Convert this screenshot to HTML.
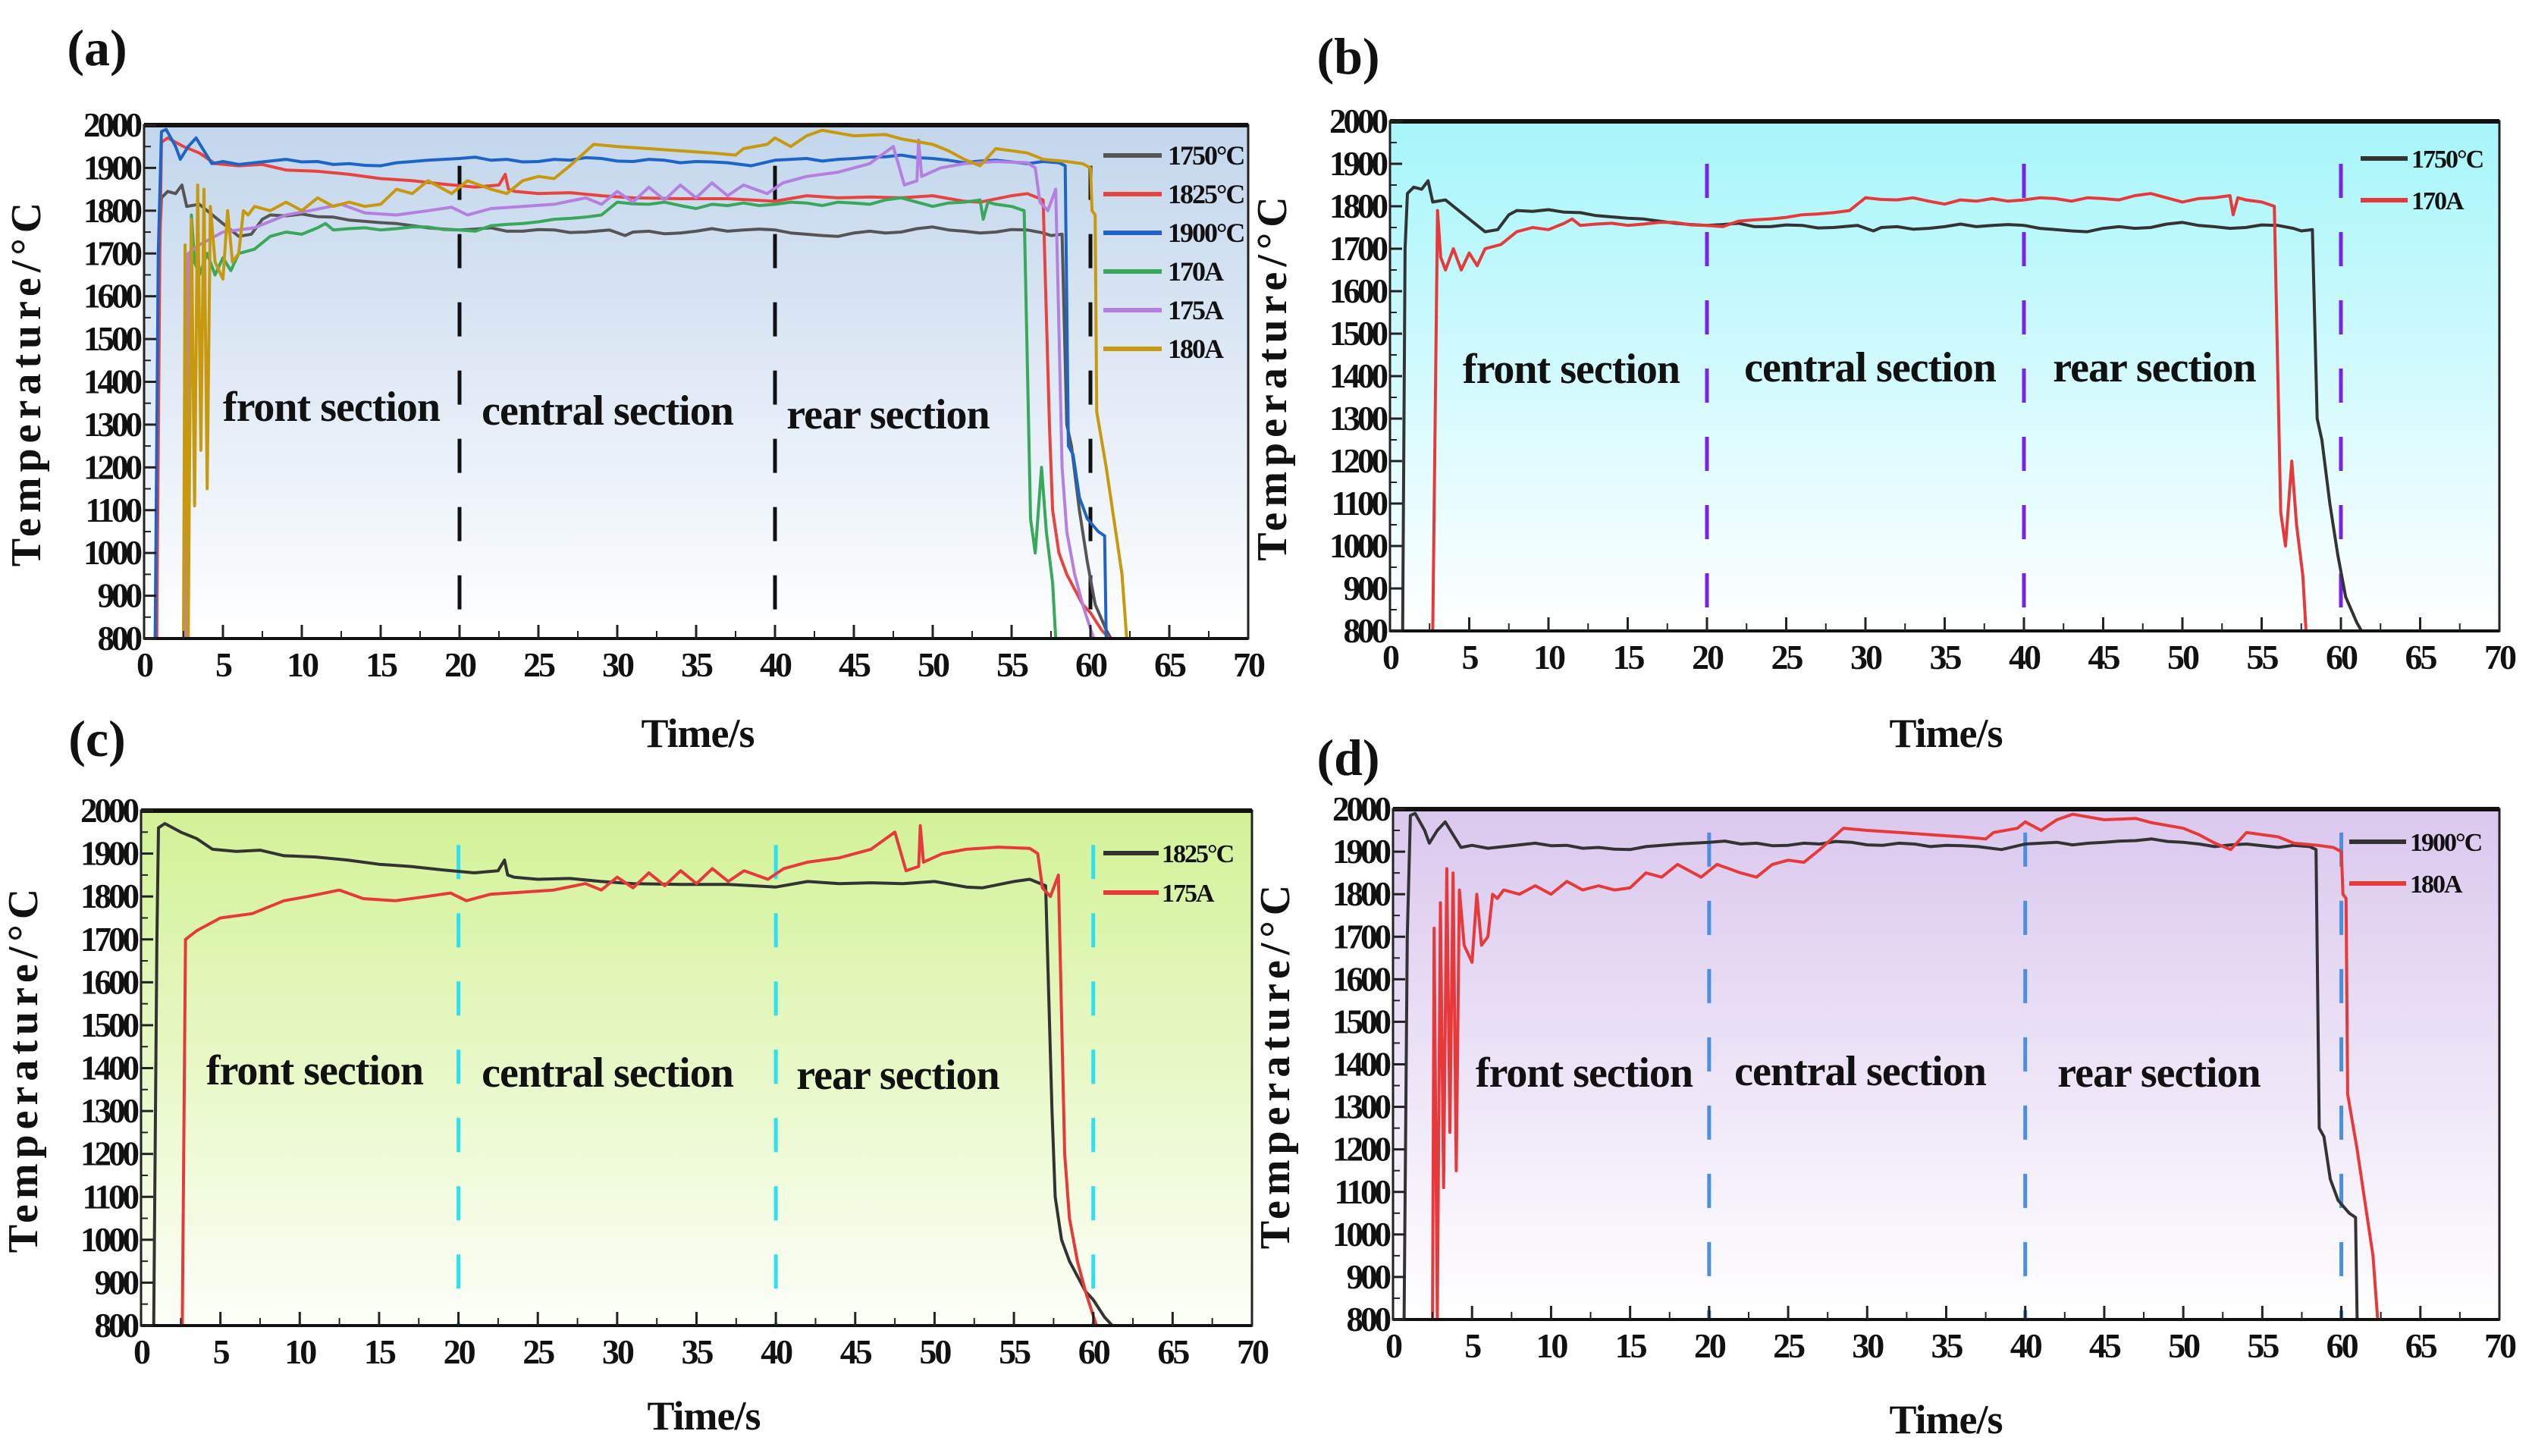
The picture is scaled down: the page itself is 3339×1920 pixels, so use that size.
<!DOCTYPE html>
<html><head><meta charset="utf-8">
<style>
html,body{margin:0;padding:0;background:#fff;}
svg{display:block;}
text{font-family:"Liberation Serif",serif;font-weight:bold;fill:#111;}
</style></head>
<body>
<svg id="fig" xmlns="http://www.w3.org/2000/svg" width="3339" height="1920" viewBox="0 0 3339 1920">
<defs>
<linearGradient id="gA" x1="0" y1="0" x2="0" y2="1"><stop offset="0" stop-color="#c2d6ec"/><stop offset="1" stop-color="#ffffff"/></linearGradient>
<linearGradient id="gB" x1="0" y1="0" x2="0" y2="1"><stop offset="0" stop-color="#a6f6fb"/><stop offset="1" stop-color="#ffffff"/></linearGradient>
<linearGradient id="gC" x1="0" y1="0" x2="0" y2="1"><stop offset="0" stop-color="#d2f296"/><stop offset="1" stop-color="#fdfff8"/></linearGradient>
<linearGradient id="gD" x1="0" y1="0" x2="0" y2="1"><stop offset="0" stop-color="#dac8ee"/><stop offset="1" stop-color="#ffffff"/></linearGradient>
</defs>
</svg>
<script>
// ---- data (time s, temperature °C) ----
const s1750 = [[0,800],[0.8,800],[0.95,1700],[1.1,1830],[1.5,1845],[2,1840],[2.4,1860],[2.7,1810],[3.5,1815],[4,1800],[5,1770],[6,1740],[6.8,1745],[7.5,1780],[8,1790],[9,1788],[10,1792],[11,1786],[12,1785],[13,1778],[14,1775],[15,1772],[16,1770],[17,1765],[18,1760],[19,1757],[20,1755],[21,1757],[22,1760],[23,1752],[24,1752],[25,1756],[26,1755],[27,1749],[28,1750],[29.5,1755],[30.5,1742],[31,1750],[32,1752],[33,1746],[34,1748],[35,1752],[36,1758],[37,1752],[38,1755],[39,1757],[40,1755],[41,1748],[42,1745],[43,1742],[44,1740],[45,1748],[46,1752],[47,1748],[48,1750],[49,1758],[50,1762],[51,1755],[52,1752],[53,1748],[54,1750],[55,1756],[56,1755],[57,1748],[57.5,1742],[58.2,1745],[58.5,1300],[58.8,1250],[59.3,1100],[59.8,980],[60.3,880],[61,820],[61.3,800],[63,800]];
const s1825 = [[0,800],[0.8,800],[1.0,1700],[1.1,1960],[1.5,1970],[2.5,1950],[3.5,1935],[4.5,1910],[6,1905],[7.5,1908],[9,1895],[11,1892],[13,1885],[15,1875],[17,1870],[19,1862],[21,1855],[22.5,1860],[22.9,1885],[23.1,1850],[23.5,1845],[25,1840],[27,1842],[29,1835],[31,1830],[34,1828],[37,1828],[40,1822],[42,1835],[44,1830],[46,1832],[48,1830],[50,1835],[52,1822],[53,1820],[55,1835],[56,1840],[57,1825],[57.4,1300],[57.6,1100],[58,1000],[58.5,950],[59.5,880],[60,860],[60.7,820],[61.2,800],[63,800]];
const s1900 = [[0,800],[0.7,800],[0.9,1700],[1.1,1985],[1.4,1990],[2,1950],[2.3,1920],[2.8,1950],[3.3,1970],[3.8,1940],[4.3,1910],[5,1915],[6,1908],[7,1912],[8,1916],[9,1920],[10,1914],[11,1915],[12,1908],[13,1910],[14,1906],[15,1905],[16,1912],[17,1915],[18,1918],[19,1920],[20,1922],[21,1925],[22,1918],[23,1920],[24,1914],[25,1915],[26,1920],[27,1918],[28,1924],[29,1922],[30,1916],[31,1915],[32,1920],[33,1918],[34,1912],[35,1915],[36,1914],[37,1912],[38.5,1905],[40,1918],[41,1920],[42,1922],[43,1916],[44,1920],[45,1922],[46,1925],[47,1926],[48,1930],[49,1924],[50,1922],[51,1918],[52,1912],[53,1916],[54,1918],[55,1914],[56,1910],[57,1915],[58,1912],[58.4,1905],[58.6,1250],[58.9,1230],[59.3,1130],[59.8,1080],[60.5,1050],[60.9,1040],[61,800],[63,800]];
const s170A = [[0,800],[2.7,800],[3.0,1790],[3.2,1680],[3.5,1650],[4,1700],[4.5,1650],[5,1690],[5.5,1660],[6,1700],[7,1710],[8,1740],[9,1750],[10,1745],[11,1760],[11.5,1770],[12,1755],[13,1758],[14,1760],[15,1755],[16,1758],[17,1762],[18,1762],[19,1756],[20,1755],[21,1752],[22,1765],[23,1768],[24,1770],[25,1774],[26,1780],[27,1782],[28,1785],[29,1790],[30,1820],[31,1816],[32,1815],[33,1820],[34,1812],[35,1805],[36,1815],[37,1812],[38,1818],[39,1812],[40,1815],[41,1820],[42,1818],[43,1812],[44,1820],[45,1818],[46,1815],[47,1825],[48,1830],[49,1820],[50,1810],[51,1818],[52,1820],[53,1825],[53.2,1780],[53.5,1820],[54,1815],[55,1810],[55.8,1800],[56.2,1080],[56.5,1000],[56.9,1200],[57.2,1050],[57.6,930],[57.8,800],[63,800]];
const s175A = [[0,800],[2.6,800],[2.8,1700],[3.5,1720],[5,1750],[7,1760],[9,1790],[10.5,1800],[12.5,1815],[14,1795],[16,1790],[18,1800],[19.5,1808],[20.5,1790],[22,1805],[24,1810],[26,1815],[28,1830],[29,1815],[30,1845],[31,1820],[32,1855],[33,1825],[34,1860],[35,1830],[36,1865],[37,1835],[38,1860],[39.5,1840],[40.5,1865],[42,1880],[44,1890],[46,1910],[47.5,1950],[48.2,1860],[49,1870],[49.1,1965],[49.3,1880],[50.5,1900],[52,1910],[54,1915],[56,1912],[56.5,1900],[56.8,1820],[57.3,1800],[57.8,1850],[58.2,1200],[58.5,1050],[59,950],[59.5,880],[60.2,800],[63,800]];
const s180A = [[0,800],[2.5,800],[2.6,1720],[2.8,800],[3.0,1780],[3.2,1110],[3.4,1860],[3.6,1240],[3.8,1850],[4.0,1150],[4.2,1810],[4.5,1680],[5.0,1640],[5.3,1800],[5.6,1680],[6.0,1700],[6.3,1800],[6.6,1790],[7,1810],[8,1800],[9,1820],[10,1800],[11,1830],[12,1810],[13,1820],[14,1810],[15,1815],[16,1850],[17,1840],[18,1870],[19.5,1840],[20.5,1870],[22,1850],[23,1840],[24,1870],[25,1880],[26,1875],[27,1905],[28.5,1955],[30,1950],[32,1945],[34,1940],[36,1935],[37.5,1930],[38,1945],[39.5,1955],[40,1970],[41,1950],[42,1975],[43,1988],[45,1975],[47,1978],[48,1968],[50,1955],[51,1940],[52,1920],[53,1905],[54,1945],[56,1935],[57,1920],[58.5,1915],[59.5,1910],[60,1900],[60.1,1800],[60.3,1790],[60.4,1330],[61,1200],[62,950],[62.3,800],[63,800]];
const xTicks = [0,5,10,15,20,25,30,35,40,45,50,55,60,65,70];
const yTicks = [800,900,1000,1100,1200,1300,1400,1500,1600,1700,1800,1900,2000];
const sectionBounds = [20,40,60];
const sectionNames = ["front section","central section","rear section"];

const NS="http://www.w3.org/2000/svg";
const svg=document.getElementById('fig');
function mk(tag,attrs,parent){const e=document.createElementNS(NS,tag);for(const k in attrs)e.setAttribute(k,attrs[k]);(parent||svg).appendChild(e);return e;}

const panels=[
 {id:'a',L:190,R:1646,T:165,B:842,bg:'url(#gA)',dash:'#111',dashTop:1905,
  series:[[s1750,'#555555','1750°C'],[s1825,'#e8433f','1825°C'],[s1900,'#1e64c8','1900°C'],[s170A,'#38a85a','170A'],[s175A,'#b47fe0','175A'],[s180A,'#c8990c','180A']],
  leg:{x1:1455,x2:1532,tx:1540,y0:205,dy:51,fs:34},
  lab:[128,64],xt:[920,985],sec:[[437,555],[801,560],[1171,565]]},
 {id:'b',L:1833,R:3296,T:160,B:832,bg:'url(#gB)',dash:'#7a22e6',dashTop:1900,
  series:[[s1750,'#333333','1750°C'],[s170A,'#e8393a','170A']],
  leg:{x1:3113,x2:3175,tx:3180,y0:209,dy:55,fs:32},
  lab:[1778,75],xt:[2566,985],sec:[[2072,505],[2466,503],[2841,503]]},
 {id:'c',L:186,R:1651,T:1069,B:1748,bg:'url(#gC)',dash:'#2ee0f2',dashTop:1920,
  series:[[s1825,'#333333','1825°C'],[s175A,'#e8393a','175A']],
  leg:{x1:1455,x2:1528,tx:1532,y0:1125,dy:52,fs:32},
  lab:[128,975],xt:[928,1885],sec:[[415,1430],[801,1433],[1184,1436]]},
 {id:'d',L:1837,R:3296,T:1067,B:1740,bg:'url(#gD)',dash:'#4a90e2',dashTop:1945,
  series:[[s1900,'#333333','1900°C'],[s180A,'#e8393a','180A']],
  leg:{x1:3098,x2:3173,tx:3178,y0:1110,dy:55,fs:32},
  lab:[1778,1000],xt:[2566,1890],sec:[[2089,1433],[2453,1431],[2847,1433]]}
];

panels.forEach(p=>{
 const g=mk('g',{});
 
 
 const X=t=>p.L+(t/70)*(p.R-p.L);
 const Y=v=>p.B-((v-800)/1200)*(p.B-p.T);
 const bg=mk('rect',{x:p.L,y:p.T,width:p.R-p.L,height:p.B-p.T,fill:p.bg},g);
 
 
 const cid='clip'+p.id;
 const cp=mk('clipPath',{id:cid},g);mk('rect',{x:p.L,y:p.T,width:p.R-p.L,height:p.B-p.T},cp);
 sectionBounds.forEach(b=>{
  const l=mk('line',{x1:X(b),x2:X(b),y1:Y(p.dashTop),y2:p.B,stroke:p.dash,'stroke-width':5,'stroke-dasharray':'45 45'},g);
  
  
 });
 const sg=mk('g',{'clip-path':'url(#'+cid+')'},g);
 p.series.forEach(s=>{
  const pts=s[0].map(d=>X(d[0]).toFixed(1)+','+Y(d[1]).toFixed(1)).join(' ');
  const pl=mk('polyline',{points:pts,fill:'none',stroke:s[1],'stroke-width':4,'stroke-linejoin':'round'},sg);
  
  
 });
 const fr=mk('rect',{x:p.L,y:p.T,width:p.R-p.L,height:p.B-p.T,fill:'none',stroke:'#222','stroke-width':3},g);
 
 
 mk('line',{x1:p.L,x2:p.R,y1:p.T,y2:p.T,stroke:'#111','stroke-width':6},g);
 mk('line',{x1:p.L,x2:p.R,y1:p.B,y2:p.B,stroke:'#111','stroke-width':4},g);
 xTicks.forEach(t=>{
  mk('line',{x1:X(t),x2:X(t),y1:p.B,y2:p.B-18,stroke:'#222','stroke-width':3},g);
  if(t<70) mk('line',{x1:X(t+2.5),x2:X(t+2.5),y1:p.B,y2:p.B-10,stroke:'#222','stroke-width':2},g);
  const tx=mk('text',{x:X(t),y:p.B+50,'text-anchor':'middle','font-size':46,'letter-spacing':-3},g);
  tx.textContent=t;
  
  
 });
 yTicks.forEach(v=>{
  mk('line',{x1:p.L,x2:p.L+16,y1:Y(v),y2:Y(v),stroke:'#222','stroke-width':3},g);
  if(v<2000) mk('line',{x1:p.L,x2:p.L+9,y1:Y(v+50),y2:Y(v+50),stroke:'#222','stroke-width':2},g);
  const ty=mk('text',{x:p.L-6,y:Y(v)+15,'text-anchor':'end','font-size':45,'letter-spacing':-4},g);
  ty.textContent=v;
  
  
 });
 sectionNames.forEach((n,i)=>{
  const t=mk('text',{x:p.sec[i][0],y:p.sec[i][1],'text-anchor':'middle','font-size':56,'letter-spacing':-1},g);
  t.textContent=n;
  
  
 });
 p.series.forEach((s,i)=>{
  const y=p.leg.y0+i*p.leg.dy;
  const ll=mk('line',{x1:p.leg.x1,x2:p.leg.x2,y1:y,y2:y,stroke:s[1],'stroke-width':6},g);
  
  
  const lt=mk('text',{x:p.leg.tx,y:y+12,'font-size':p.leg.fs+2,'letter-spacing':-2},g);
  lt.textContent=s[2];
  
  
 });
 const xt=mk('text',{x:p.xt[0],y:p.xt[1],'text-anchor':'middle','font-size':54,'letter-spacing':-1},g);
 xt.textContent='Time/s';
 
 
 const cy=(p.T+p.B)/2, cx=p.L-137;
 const yt=mk('text',{x:cx,y:cy,'text-anchor':'middle','font-size':56,'letter-spacing':7,transform:'rotate(-90 '+cx+' '+cy+')'},g);
 yt.textContent='Temperature/°C';
 
 
 const pl=mk('text',{x:p.lab[0],y:p.lab[1]+22,'text-anchor':'middle','font-size':68},g);
 pl.textContent='('+p.id+')';
 
 
});
</script>
</body></html>
